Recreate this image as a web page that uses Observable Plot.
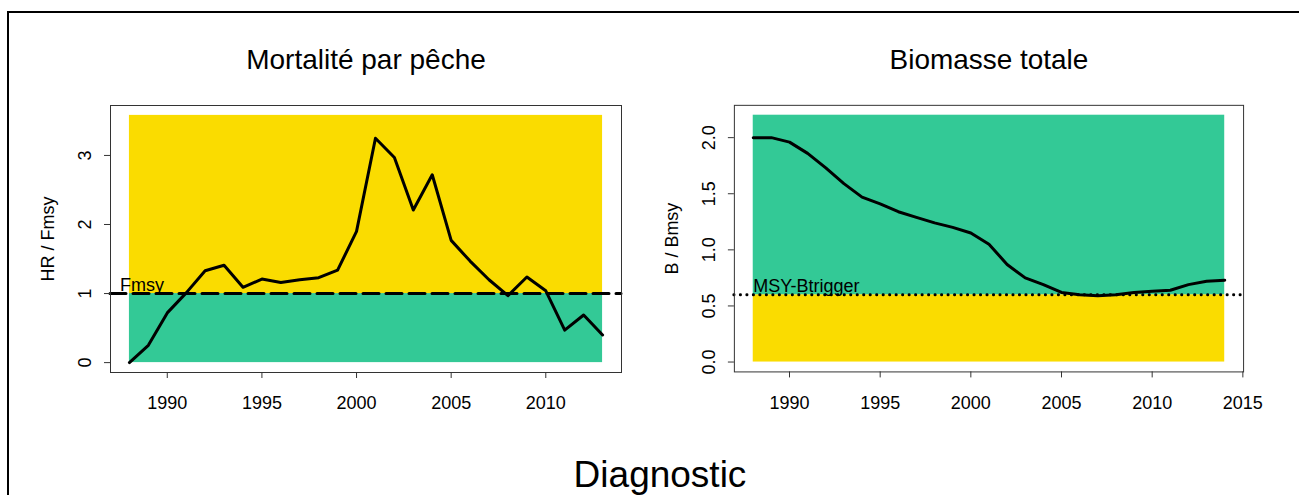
<!DOCTYPE html>
<html><head><meta charset="utf-8">
<script src="https://cdn.jsdelivr.net/npm/d3@7"></script>
<script src="https://cdn.jsdelivr.net/npm/@observablehq/plot@0.6"></script>
<style>
body{margin:0;background:#fff;font-family:"Liberation Sans",Arial,sans-serif;}
#wrap{position:relative;width:1299px;height:495px;overflow:hidden;background:#fff;}
#border{position:absolute;left:7px;top:11px;width:1400px;height:600px;border-left:2px solid #000;border-top:2px solid #000;}
.p{position:absolute;top:0;}
#diag{position:absolute;left:0;width:1320px;top:455px;text-align:center;font-size:37px;line-height:40px;color:#000;}
</style></head><body>
<div id="wrap"><div id="border"></div><div id="left" class="p" style="left:0"></div><div id="right" class="p" style="left:650px"></div><div id="diag">Diagnostic</div></div>
<script>
// ---- data ----
const yearsF = [1988,1989,1990,1991,1992,1993,1994,1995,1996,1997,1998,1999,2000,2001,2002,2003,2004,2005,2006,2007,2008,2009,2010,2011,2012,2013];
const hrFmsy = [0.00,0.25,0.72,1.01,1.33,1.41,1.09,1.21,1.16,1.20,1.23,1.34,1.90,3.25,2.97,2.21,2.72,1.77,1.47,1.20,0.97,1.24,1.04,0.47,0.69,0.40];
const yearsB = [1988,1989,1990,1991,1992,1993,1994,1995,1996,1997,1998,1999,2000,2001,2002,2003,2004,2005,2006,2007,2008,2009,2010,2011,2012,2013,2014];
const bBmsy = [2.00,2.00,1.96,1.86,1.73,1.59,1.47,1.41,1.34,1.29,1.24,1.20,1.15,1.05,0.87,0.75,0.69,0.62,0.60,0.59,0.60,0.62,0.63,0.64,0.69,0.72,0.73];
const fmsyRef = 1;
const btriggerRef = 0.6;
const fZoneTop = 3.58;
const bZoneTop = 2.2;
const xTicksF = [1990,1995,2000,2005,2010];
const xTicksB = [1990,1995,2000,2005,2010,2015];
const yTicksF = [0,1,2,3];
const yTickLabelsF = ["0","1","2","3"];
const yTicksB = [0,0.5,1,1.5,2];
const yTickLabelsB = ["0.0","0.5","1.0","1.5","2.0"];
const titles = ["Mortalité par pêche","Biomasse totale"];
const yLabels = ["HR / Fmsy","B / Bmsy"];
const refLabels = ["Fmsy","MSY-Btrigger"];

const YELLOW = "#FADC00", GREEN = "#33C996";
const FONT = "Liberation Sans, Arial, sans-serif";

function pad(lo, hi){ const d=(hi-lo)*0.04; return [lo-d, hi+d]; }

function panel({years, values, ref, zoneTop, belowFill, aboveFill, xTicks, yTicks, yTickLabels, title, ylab, refLabel, refDash, refCap, ml, mr, labelX}) {
  const x0 = years[0], x1 = years[years.length-1];
  const pts = years.map((y,i)=>({year:y, v:values[i]}));
  return Plot.plot({
    width: 650, height: 440,
    marginLeft: ml, marginRight: mr, marginTop: 105, marginBottom: 68,
    style: {fontFamily: FONT, background: "transparent", overflow: "visible"},
    x: {domain: pad(x0, x1)},
    y: {domain: pad(0, zoneTop)},
    marks: [
      Plot.rect([{a:0,b:ref}], {x1: ()=>x0, x2: ()=>x1, y1: "a", y2: "b", fill: belowFill}),
      Plot.rect([{a:ref,b:zoneTop}], {x1: ()=>x0, x2: ()=>x1, y1: "a", y2: "b", fill: aboveFill}),
      Plot.line(pts, {x: "year", y: "v", stroke: "#000", strokeWidth: 3, strokeLinejoin: "round", strokeLinecap: "round"}),
      Plot.ruleY([ref], {stroke: "#000", strokeWidth: 3, strokeDasharray: refDash, strokeLinecap: refCap}),
      Plot.text([refLabel], {x: ()=>labelX, y: ()=>ref, text: d=>d, textAnchor: "start", lineAnchor: "bottom", dy: -3, fontSize: 18}),
      Plot.frame({stroke: "#333", strokeWidth: 1}),
      Plot.axisX({ticks: xTicks, tickSize: 6, tickPadding: 18, fontSize: 18, tickFormat: d=>String(d), label: null, stroke: "#333"}),
      Plot.axisY({ticks: yTicks, tickSize: 6, tickFormat: ()=>"", label: null, stroke: "#333"}),
      Plot.text(yTicks, {y: d=>d, text: (d,i)=>yTickLabels[i], frameAnchor: "left", dx: -25, rotate: -90, textAnchor: "middle", lineAnchor: "middle", fontSize: 18}),
      Plot.text([ylab], {text: d=>d, frameAnchor: "left", dx: -62, rotate: -90, textAnchor: "middle", lineAnchor: "middle", fontSize: 18}),
      Plot.text([title], {text: d=>d, frameAnchor: "top", dy: -45, textAnchor: "middle", lineAnchor: "middle", fontSize: 28})
    ]
  });
}

document.getElementById("left").appendChild(panel({
  years: yearsF, values: hrFmsy, ref: fmsyRef, zoneTop: fZoneTop,
  belowFill: GREEN, aboveFill: YELLOW, xTicks: xTicksF, yTicks: yTicksF, yTickLabels: yTickLabelsF,
  title: titles[0], ylab: yLabels[0], refLabel: refLabels[0], refDash: "16,7", refCap: "round",
  ml: 110, mr: 29, labelX: 1987.5
}));
document.getElementById("right").appendChild(panel({
  years: yearsB, values: bBmsy, ref: btriggerRef, zoneTop: bZoneTop,
  belowFill: YELLOW, aboveFill: GREEN, xTicks: xTicksB, yTicks: yTicksB, yTickLabels: yTickLabelsB,
  title: titles[1], ylab: yLabels[1], refLabel: refLabels[1], refDash: "0.1,6.4", refCap: "round",
  ml: 84, mr: 56, labelX: 1988
}));
</script>
</body></html>
